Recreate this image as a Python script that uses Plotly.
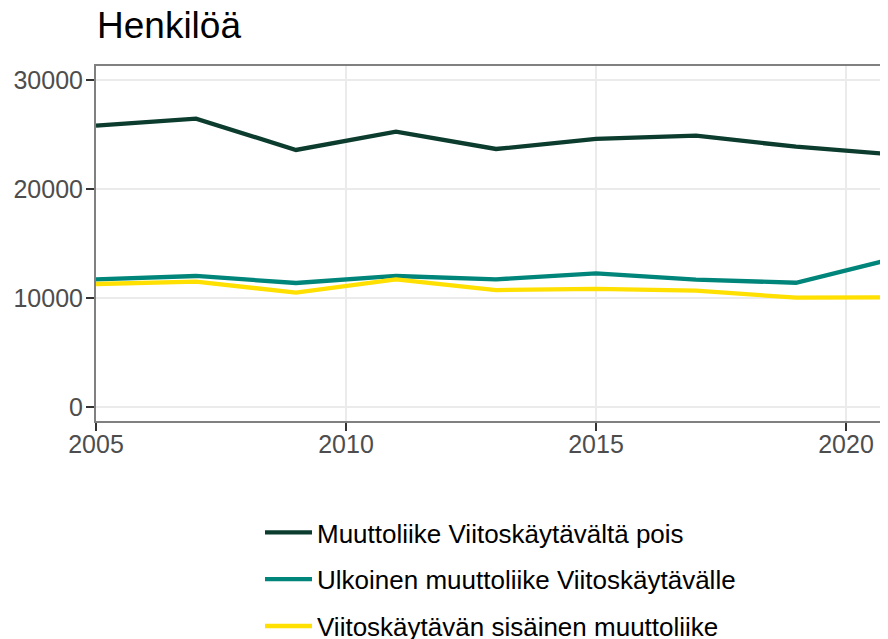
import plotly.graph_objects as go

years = [2005, 2007, 2009, 2011, 2013, 2015, 2017, 2019, 2021]
muutto_pois = [25810, 26450, 23580, 25260, 23670, 24590, 24890, 23880, 23150]
ulkoinen = [11715, 12020, 11376, 12020, 11715, 12260, 11680, 11400, 13670]
sisainen = [11285, 11500, 10490, 11715, 10730, 10830, 10670, 10030, 10060]

series = [
    ("Muuttoliike Viitoskäytävältä pois", muutto_pois, "#0b3c2e"),
    ("Ulkoinen muuttoliike Viitoskäytävälle", ulkoinen, "#00857a"),
    ("Viitoskäytävän sisäinen muuttoliike", sisainen, "#ffe000"),
]

x_ticks = [2005, 2010, 2015, 2020]
y_ticks = [0, 10000, 20000, 30000]

fig = go.Figure()
for i, (name, vals, col) in enumerate(series):
    fig.add_trace(go.Scatter(
        x=years, y=vals, name=name, mode="lines",
        line=dict(color=col, width=4.3),
        legendgroup=f"g{i}",
    ))

# page body has an 8px margin, so the figure is 880x631 and offset by 8px
W, H = 880, 631
font = "Liberation Sans, Arial, sans-serif"
fig.update_layout(
    width=W, height=H,
    margin=dict(l=88, r=0, t=58, b=218, autoexpand=False),
    paper_bgcolor="white", plot_bgcolor="white",
    font=dict(family=font, color="#000000"),
    title=dict(text="Henkilöä", font=dict(size=37, color="#000000"),
               x=89/W, xanchor="left", xref="container",
               y=1 - 4/H, yanchor="top", yref="container"),
    showlegend=True,
    legend=dict(
        orientation="v", xref="container", yref="container",
        x=252/W, xanchor="left", y=1 - 501/H, yanchor="top",
        font=dict(size=26, color="#000000"),
        itemwidth=47, tracegroupgap=10, bgcolor="rgba(0,0,0,0)",
    ),
    xaxis=dict(
        range=[2005, 2005 + 792/50], tickvals=x_ticks, ticktext=[str(v) for v in x_ticks],
        showgrid=True, gridcolor="#ebebeb", gridwidth=2,
        showline=True, linecolor="#808080", linewidth=2, mirror=True,
        ticks="outside", ticklen=8, tickwidth=2, tickcolor="#333333",
        tickfont=dict(size=25, color="#4d4d4d"), zeroline=False,
        automargin=False, tickangle=0, ticklabelstandoff=-8,
    ),
    yaxis=dict(
        range=[-1284, 31284], tickvals=y_ticks, ticktext=[str(v) for v in y_ticks],
        showgrid=True, gridcolor="#ebebeb", gridwidth=2,
        showline=True, linecolor="#808080", linewidth=2, mirror=False,
        ticks="outside", ticklen=8, tickwidth=2, tickcolor="#333333",
        tickfont=dict(size=25, color="#4d4d4d"), zeroline=False,
        automargin=False, ticklabelstandoff=-2,
    ),
)

fig.write_html("out.html")
